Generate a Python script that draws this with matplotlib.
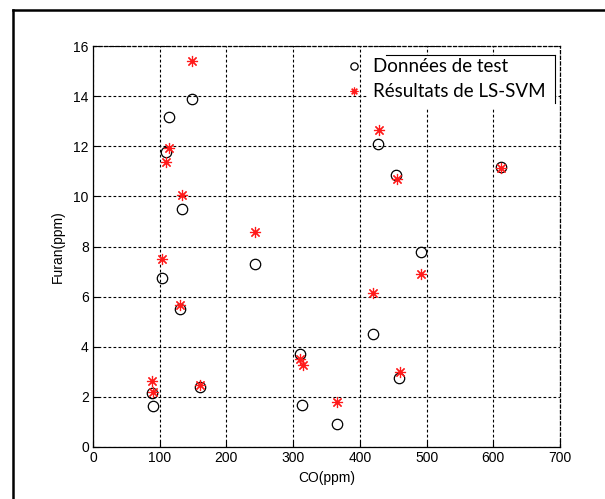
import matplotlib.pyplot as plt
from matplotlib.lines import Line2D
from matplotlib.patches import Rectangle

# CO (ppm) of each sample, shared by both series
co = [149, 114, 110, 133, 104, 131, 88, 90, 161, 243, 311, 314, 366, 420, 427, 454, 459, 492, 612]
co_svm = [149, 114, 110, 134, 104, 131, 88, 90, 161, 243, 311, 315, 366, 420, 428, 455, 460, 492, 612]
furan_test = [13.89, 13.18, 11.77, 9.49, 6.74, 5.51, 2.16, 1.64, 2.38, 7.30, 3.70, 1.68, 0.93,
              4.49, 12.10, 10.85, 2.76, 7.80, 11.19]
furan_svm = [15.42, 11.94, 11.38, 10.04, 7.52, 5.67, 2.62, 2.18, 2.46, 8.59, 3.52, 3.26, 1.81,
             6.13, 12.66, 10.69, 3.00, 6.90, 11.12]

x_ticks = [0, 100, 200, 300, 400, 500, 600, 700]
y_ticks = [0, 2, 4, 6, 8, 10, 12, 14, 16]

W, H = 605, 499
fig = plt.figure(figsize=(W / 100, H / 100), dpi=100)
ax = fig.add_axes([93 / W, 1 - 447 / H, (560 - 93) / W, (447 - 46) / H])

ax.plot(co, furan_test, 'o', mfc='none', mec='black', ms=7.5, mew=0.9,
        label='Données de test', zorder=3)
ax.plot(co_svm, furan_svm, ls='none', marker=(8, 2, 0), color='#ff1a1a', ms=8, mew=0.85,
        label='Résultats de LS-SVM', zorder=4)

ax.set_xlim(0, 700)
ax.set_ylim(0, 16)
ax.set_xticks(x_ticks)
ax.set_yticks(y_ticks)
ax.grid(True, color='black', linestyle=(0, (2.5, 2)), linewidth=0.8)
ax.tick_params(direction='in', length=4, width=0.8, labelsize=10, pad=3)
for lab in ax.get_xticklabels() + ax.get_yticklabels():
    lab.set_family('Liberation Sans')
ax.spines['top'].set_linestyle((0, (2.5, 2)))
ax.spines['right'].set_linestyle((0, (2.5, 2)))
for s in ax.spines.values():
    s.set_linewidth(0.9)

ax.set_xlabel('CO(ppm)', fontsize=10, family='Liberation Sans', labelpad=4)
ax.set_ylabel('Furan(ppm)', fontsize=10, family='Liberation Sans', labelpad=6)

# white patch behind the legend (above the grid), then its odd half-frame
ax.add_patch(Rectangle((367 / W, 1 - 108 / H), (555 - 367) / W, (108 - 55) / H,
                       transform=fig.transFigure, facecolor='white', edgecolor='none',
                       zorder=2.5, clip_on=False))
leg = ax.legend(loc='upper left', bbox_to_anchor=(337 / W, 1 - 49 / H),
                bbox_transform=fig.transFigure, frameon=False, markerscale=0.7,
                handlelength=0.8, handletextpad=0.6, labelspacing=0.42, borderpad=0,
                prop={'family': 'Lato', 'size': 13.5})
leg.set_zorder(6)
fig.add_artist(Line2D([386 / W, 555 / W], [1 - 55 / H, 1 - 55 / H], color='black', lw=0.8))
fig.add_artist(Line2D([555 / W, 555 / W], [1 - 55 / H, 1 - 103 / H], color='black', lw=0.8))

# outer frame of the picture
fig.add_artist(Line2D([13 / W, 1.0], [1 - 9.5 / H, 1 - 9.5 / H], color='black', lw=1.8))
fig.add_artist(Line2D([13 / W, 13 / W], [0.0, 1 - 9.5 / H], color='black', lw=1.8))

fig.savefig('out.png', dpi=100)
